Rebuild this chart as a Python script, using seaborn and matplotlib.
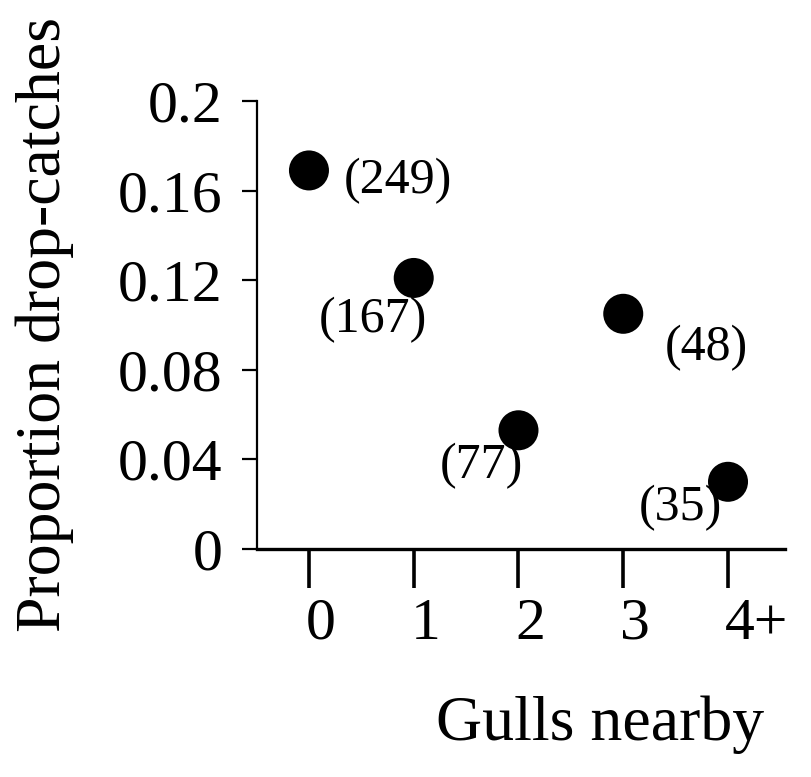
import matplotlib
matplotlib.use("Agg")
import matplotlib.pyplot as plt
import matplotlib.transforms as mtransforms
import seaborn as sns
import pandas as pd

# ---- data ----
categories = ["0", "1", "2", "3", "4+"]
cat_pos = [0, 1, 2, 3, 4]
proportion = [0.169, 0.121, 0.053, 0.105, 0.030]
sample_n = ["(249)", "(167)", "(77)", "(48)", "(35)"]
y_ticks = [0, 0.04, 0.08, 0.12, 0.16, 0.2]
y_tick_labels = ["0", "0.04", "0.08", "0.12", "0.16", "0.2"]

df = pd.DataFrame({"pos": cat_pos, "prop": proportion, "n": sample_n})

# label offsets in pixels (dx, dy) relative to each point
label_offsets = [(89, -10), (-41, -42), (-37, -36), (83, -34), (-48, -26)]

sns.set_theme(style="white")
plt.rcParams["font.family"] = ["Liberation Serif", "DejaVu Serif"]

fig = plt.figure(figsize=(8.11, 7.77), dpi=100)
ax = fig.add_axes([257 / 811, 228 / 777, 528 / 811, 448 / 777])

sns.scatterplot(data=df, x="pos", y="prop", ax=ax, s=830, color="black",
                edgecolor="none", linewidth=0, clip_on=False, legend=False)

for (x, y, t), (dx, dy) in zip(zip(cat_pos, proportion, sample_n), label_offsets):
    ax.annotate(t, (x, y), xytext=(dx, dy), textcoords="offset pixels",
                ha="center", va="center", fontsize=36, color="black")

ax.set_xlim(-0.496, 4.544)
ax.set_ylim(0, 0.2)

ax.set_xticks(cat_pos)
ax.set_xticklabels(categories, fontsize=43)
ax.set_yticks(y_ticks)
ax.set_yticklabels(y_tick_labels, fontsize=43)

sns.despine(ax=ax)
ax.spines["left"].set_linewidth(1.6)
ax.spines["bottom"].set_linewidth(2.4)
ax.spines["left"].set_color("black")
ax.spines["bottom"].set_color("black")

ax.tick_params(axis="x", direction="out", length=28, width=2.6, pad=7,
               colors="black", bottom=True)
ax.tick_params(axis="y", direction="out", length=11, width=1.6, pad=14,
               colors="black", left=True)

offset = mtransforms.ScaledTranslation(-3 / 100, 0, fig.dpi_scale_trans)
for lab in ax.get_xticklabels():
    lab.set_horizontalalignment("left")
    lab.set_transform(lab.get_transform() + offset)

ax.set_xlabel("Gulls nearby", fontsize=46, color="black")
ax.xaxis.set_label_coords(0.65, -0.326)
ax.set_ylabel("Proportion drop-catches", fontsize=46, color="black")
ax.yaxis.set_label_coords(-0.458, 0.5)
ax.yaxis.label.set_verticalalignment("top")

ax.grid(False)
fig.savefig("out.png", dpi=100, facecolor="white")
